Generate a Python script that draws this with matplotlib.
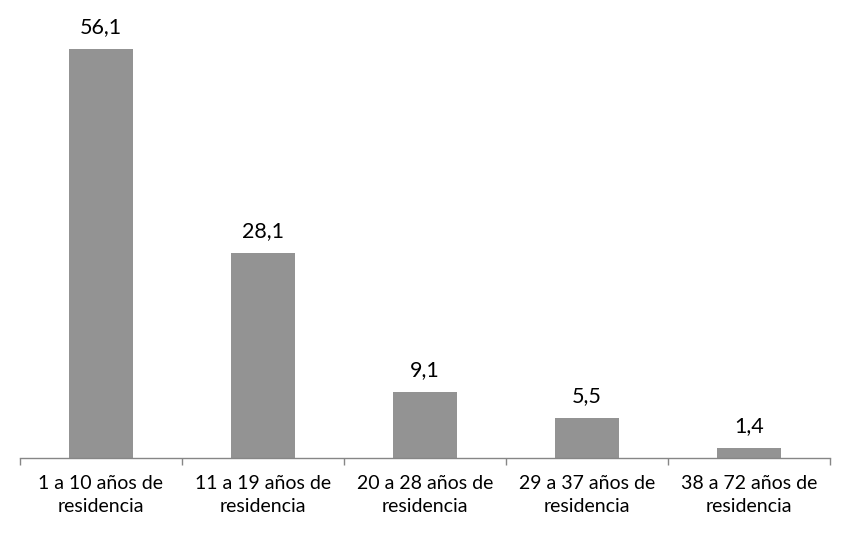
import matplotlib
matplotlib.use("Agg")
import matplotlib.pyplot as plt

categories = ["1 a 10 años de\nresidencia", "11 a 19 años de\nresidencia",
              "20 a 28 años de\nresidencia", "29 a 37 años de\nresidencia",
              "38 a 72 años de\nresidencia"]
values = [56.1, 28.1, 9.1, 5.5, 1.4]
value_labels = ["56,1", "28,1", "9,1", "5,5", "1,4"]

plt.rcParams['font.family'] = ['Lato', 'DejaVu Sans']

fig = plt.figure(figsize=(8.5, 5.33), dpi=100)
ax = fig.add_axes([0.0235, 0.1407, 0.9529, 0.8203])
x = list(range(len(values)))
bars = ax.bar(x, values, width=0.4, color="#939393")
for b, lab in zip(bars, value_labels):
    ax.text(b.get_x() + b.get_width() / 2, b.get_height() + 1.6, lab,
            ha="center", va="bottom", fontsize=15.5, color="#000000")
ax.set_xlim(-0.5, len(values) - 0.5)
ax.set_ylim(0, 60)
for s in ["top", "right", "left"]:
    ax.spines[s].set_visible(False)
ax.spines["bottom"].set_color("#868686")
ax.spines["bottom"].set_linewidth(1.0)
ax.set_yticks([])
ax.set_xticks(x)
ax.set_xticklabels(categories, fontsize=14, linespacing=1.45)
ax.tick_params(axis="x", length=0, pad=12)
ax.set_xticks([i - 0.5 for i in range(len(values) + 1)], minor=True)
ax.tick_params(axis="x", which="minor", length=5, color="#868686", width=1.0)
fig.savefig("out.png", dpi=100)
